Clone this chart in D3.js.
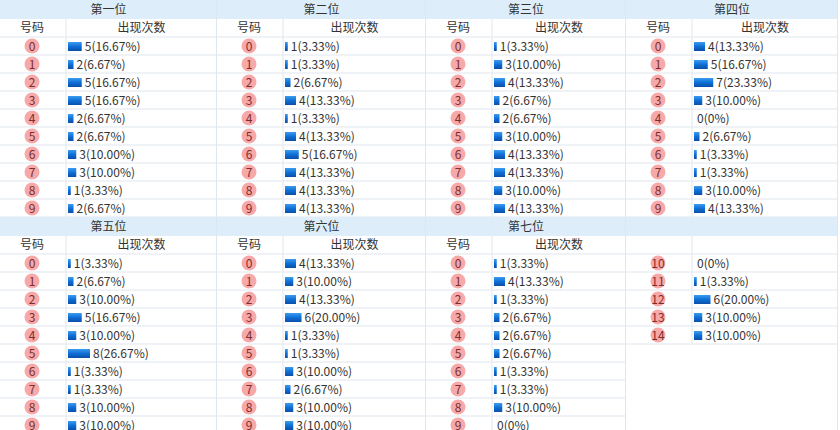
<!DOCTYPE html>
<html lang="en">
<head>
<meta charset="utf-8">
<script src="https://cdn.jsdelivr.net/npm/d3@7"></script>
<style>
  body { margin: 0; background: #fff; }
  text { font-family: "Noto Sans CJK SC", "Open Sans", sans-serif; }
</style>
</head>
<body>
<script>
var w = 840, h = 430;
var total = 30;

var titles = ["第一位", "第二位", "第三位", "第四位", "第五位", "第六位", "第七位", ""];
var digits = [0, 1, 2, 3, 4, 5, 6, 7, 8, 9];
var extraNums = [10, 11, 12, 13, 14];
var p1 = [5, 2, 5, 5, 2, 2, 3, 3, 1, 2];
var p2 = [1, 1, 2, 4, 1, 4, 5, 4, 4, 4];
var p3 = [1, 3, 4, 2, 2, 3, 4, 4, 3, 4];
var p4 = [4, 5, 7, 3, 0, 2, 1, 1, 3, 4];
var p5 = [1, 2, 3, 5, 3, 8, 1, 1, 3, 3];
var p6 = [4, 3, 4, 6, 1, 1, 3, 2, 3, 3];
var p7 = [1, 4, 1, 2, 2, 2, 1, 1, 3, 0];
var p7extra = [0, 1, 6, 3, 3];

var panels = [
  { nums: digits, vals: p1 }, { nums: digits, vals: p2 },
  { nums: digits, vals: p3 }, { nums: digits, vals: p4 },
  { nums: digits, vals: p5 }, { nums: digits, vals: p6 },
  { nums: digits, vals: p7 }, { nums: extraNums, vals: p7extra, noHeader: true }
];

var colX = [0, 217, 426, 626, 838];
var rowH = 18, headH = 19, subH = 18;
var blockH = headH + subH + rowH * 10;

var barW = d3.scaleLinear().domain([0, 8]).range([0, 22]);

var svg = d3.select("body").append("svg").attr("width", w).attr("height", h);
var defs = svg.append("defs");
var grad = defs.append("linearGradient").attr("id", "bar").attr("x1", 0).attr("y1", 0).attr("x2", 0).attr("y2", 1);
grad.append("stop").attr("offset", "0%").attr("stop-color", "#3b9cf0");
grad.append("stop").attr("offset", "50%").attr("stop-color", "#0f6fd6");
grad.append("stop").attr("offset", "100%").attr("stop-color", "#0a4fa8");

panels.forEach(function(p, i) {
  var c = i % 4, r = Math.floor(i / 4);
  var x0 = colX[c], x1 = colX[c + 1], y0 = r * blockH;
  var pw = x1 - x0, sep = x0 + 66;
  var g = svg.append("g");

  // header
  g.append("rect").attr("x", x0).attr("y", y0).attr("width", pw).attr("height", headH).attr("fill", "#ddeefa");
  g.append("text").attr("x", x0 + pw / 2).attr("y", y0 + 14).attr("text-anchor", "middle")
    .attr("font-size", 12).attr("fill", "#333").text(titles[i]);

  var ys = y0 + headH;
  if (!p.noHeader) {
    g.append("text").attr("x", x0 + 32).attr("y", ys + 13).attr("text-anchor", "middle")
      .attr("font-size", 12).attr("fill", "#333").text("号码");
    g.append("text").attr("x", (sep + x1) / 2).attr("y", ys + 13).attr("text-anchor", "middle")
      .attr("font-size", 12).attr("fill", "#333").text("出现次数");
  }
  var yr = ys + subH;
  var nRows = p.nums.length;
  var lineRows = p.noHeader ? nRows : 10;

  // grid
  g.append("line").attr("x1", x0).attr("x2", x1).attr("y1", yr).attr("y2", yr).attr("stroke", "#dfe7ee");
  for (var k = 1; k <= lineRows; k++) {
    g.append("line").attr("x1", x0).attr("x2", x1).attr("y1", yr + k * rowH).attr("y2", yr + k * rowH).attr("stroke", "#dfe7ee");
  }
  g.append("line").attr("x1", sep).attr("x2", sep).attr("y1", ys).attr("y2", yr + lineRows * rowH).attr("stroke", "#dfe7ee");
  g.append("line").attr("x1", x1 - 0.5).attr("x2", x1 - 0.5).attr("y1", y0).attr("y2", p.noHeader ? h : y0 + blockH).attr("stroke", "#dfe7ee");

  var rows = g.selectAll(".row").data(p.nums).enter().append("g")
    .attr("transform", function(d, j) { return "translate(0," + (yr + j * rowH + rowH / 2) + ")"; });
  rows.append("circle").attr("cx", x0 + 32).attr("cy", 0).attr("r", 7.5).attr("fill", "#f7a8a8");
  rows.append("text").attr("x", x0 + 32).attr("y", 4.5).attr("text-anchor", "middle")
    .attr("font-size", 12).attr("fill", "#7a2e2e").text(function(d) { return d; });
  rows.append("rect").attr("x", sep + 2).attr("y", -4).attr("height", 9)
    .attr("width", function(d, j) { return barW(p.vals[j]); }).attr("fill", "url(#bar)");
  rows.append("text").attr("x", function(d, j) { return sep + 5 + barW(p.vals[j]); }).attr("y", 4.5)
    .attr("font-size", 12).attr("fill", "#333")
    .text(function(d, j) {
      var v = p.vals[j];
      return v + "(" + (v === 0 ? "0" : (v / total * 100).toFixed(2)) + "%)";
    });
});
</script>
</body>
</html>
